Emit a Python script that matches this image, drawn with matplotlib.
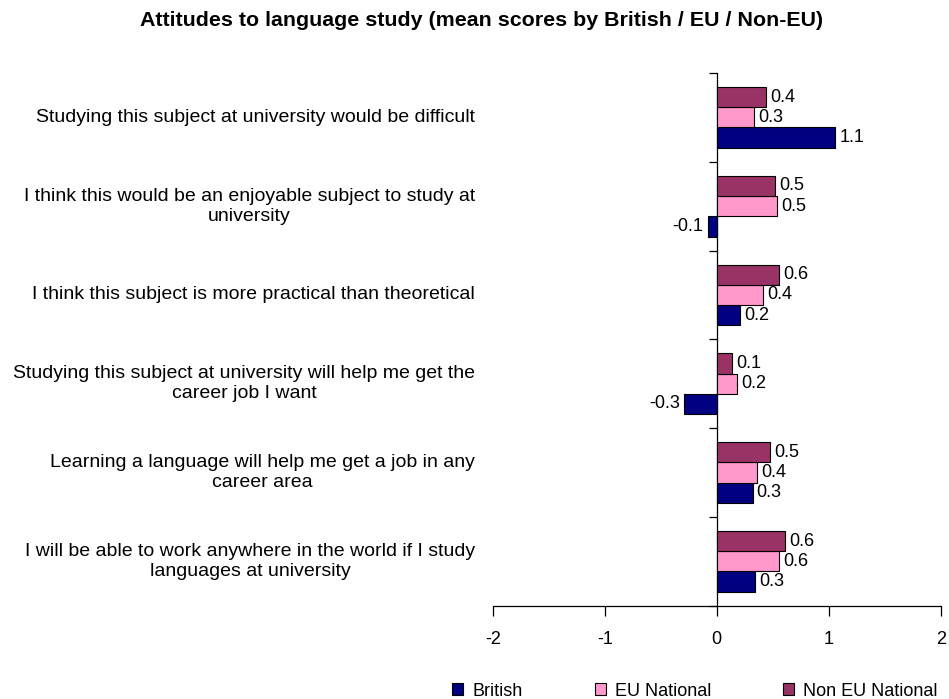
import matplotlib
matplotlib.use("Agg")
import matplotlib.pyplot as plt
from matplotlib.transforms import blended_transform_factory
import numpy as np

plt.rcParams["font.family"] = ["Liberation Sans", "DejaVu Sans"]

# Survey statements, top to bottom
statements = [
    "Studying this subject at university would be difficult",
    "I think this would be an enjoyable subject to study at\nuniversity",
    "I think this subject is more practical than theoretical",
    "Studying this subject at university will help me get the\ncareer job I want",
    "Learning a language will help me get a job in any\ncareer area",
    "I will be able to work anywhere in the world if I study\nlanguages at university",
]

# Mean attitude scores per group
british = [1.06, -0.08, 0.21, -0.29, 0.32, 0.34]
eu_national = [0.33, 0.54, 0.41, 0.18, 0.36, 0.56]
non_eu_national = [0.44, 0.52, 0.56, 0.14, 0.48, 0.61]

group_names = ["British", "EU National", "Non EU National"]
x_ticks = [-2, -1, 0, 1, 2]

colors = ["#000080", "#FF99CC", "#993366"]
bar_h = 0.228
offsets = [bar_h, 0.0, -bar_h]
FS = 13

fig = plt.figure(figsize=(9.49, 6.99), dpi=100)
ax = fig.add_axes([0.5192, 0.1335, 0.4721, 0.7621])

y = np.arange(len(statements))
containers = []
for name, vals, col, off in zip(group_names, [british, eu_national, non_eu_national], colors, offsets):
    bars = ax.barh(y + off, vals, height=bar_h, color=col, edgecolor="black",
                   linewidth=0.8, label=name, zorder=3)
    ax.bar_label(bars, labels=[f"{v:.1f}" for v in vals], padding=3, fontsize=FS)
    containers.append(bars)

ax.set_xlim(x_ticks[0], x_ticks[-1])
ax.set_ylim(len(statements) - 0.5, -0.5)

# Axes styling: vertical axis crosses at zero, category boundaries as tick marks
for side in ("top", "right"):
    ax.spines[side].set_visible(False)
ax.spines["left"].set_position(("data", 0))
ax.spines["left"].set_linewidth(0.9)
ax.spines["bottom"].set_linewidth(0.9)
ax.set_yticks(np.arange(len(statements) + 1) - 0.5)
ax.set_yticklabels([])
ax.tick_params(axis="y", direction="out", length=6, width=0.9)
ax.set_xticks(x_ticks)
ax.set_xticklabels([str(t) for t in x_ticks])
ax.tick_params(axis="x", direction="out", length=7, width=0.9, pad=11, labelsize=FS)

# Category labels to the left of the plot area
trans = blended_transform_factory(ax.transAxes, ax.transData)
for yi, text in zip(y, statements):
    ax.text(-0.0395, yi, text, transform=trans, ha="right", va="center",
            multialignment="center", fontsize=14, linespacing=1.22)

fig.text(482 / 949, 1 - 21 / 699,
         "Attitudes to language study (mean scores by British / EU / Non-EU)",
         ha="center", va="center", fontsize=15.4, fontweight="bold")

fig.legend(containers, group_names, loc="center",
           bbox_to_anchor=(695 / 949, 1 - 691 / 699), ncol=3, frameon=False,
           fontsize=FS, handlelength=0.6, handleheight=0.6, handletextpad=0.5,
           columnspacing=4.0)

fig.savefig("out.png", dpi=100)
